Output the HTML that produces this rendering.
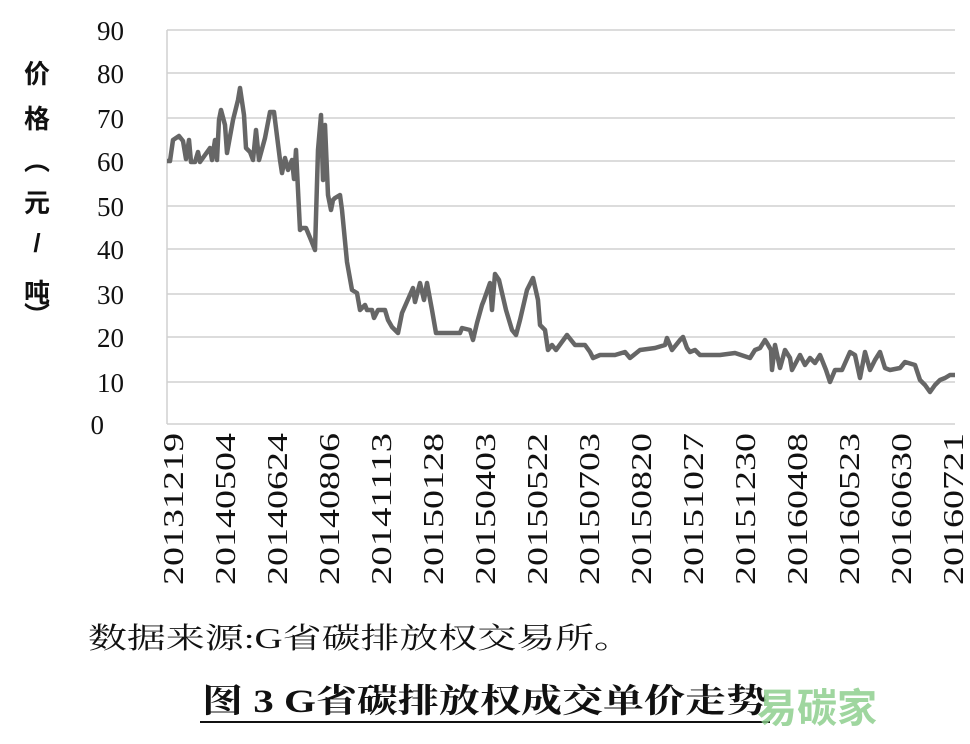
<!DOCTYPE html>
<html><head><meta charset="utf-8"><style>
body{margin:0;background:#fff;width:970px;height:744px;overflow:hidden;position:relative}
</style></head><body>
<svg width="970" height="744" style="position:absolute;left:0;top:0">
<g stroke="#d0d0d0" stroke-width="1.5">
<line x1="167" y1="30" x2="955" y2="30"/><line x1="167" y1="73" x2="955" y2="73"/><line x1="167" y1="118" x2="955" y2="118"/><line x1="167" y1="161" x2="955" y2="161"/><line x1="167" y1="206" x2="955" y2="206"/><line x1="167" y1="249" x2="955" y2="249"/><line x1="167" y1="294" x2="955" y2="294"/><line x1="167" y1="337" x2="955" y2="337"/><line x1="167" y1="382" x2="955" y2="382"/><line x1="167" y1="424" x2="955" y2="424"/>
<line x1="167" y1="30" x2="167" y2="424"/>
</g>
<polyline fill="none" stroke="#666" stroke-width="4.5" stroke-linejoin="round" points="167,161 170,161 173,140 179,136 183,141 186,159 189,140 191,162 195,162 198,152 200,162 205,155 210,148 212,160 215,140 217,160 219,120 221,110 225,125 227,153 233,120 238,100 240,88 244,115 246,148 250,152 253,160 256,130 259,160 265,138 270,112 274,112 280,160 282,173 285,158 288,170 292,160 294,179 296,150 300,230 302,228 306,228 311,240 315,250 318,150 321,115 323,180 325,125 328,195 331,210 333,200 335,198 340,195 342,210 347,262 352,290 357,293 360,310 365,305 367,310 372,310 374,318 378,310 385,310 388,320 392,327 398,333 402,313 413,288 415,302 420,283 424,300 427,283 432,310 436,333 460,333 462,328 470,330 473,340 477,323 482,305 484,300 490,283 492,310 495,274 499,280 506,310 512,330 516,335 520,320 527,290 533,278 538,300 540,325 545,330 548,350 552,345 556,350 567,335 575,345 585,345 590,352 593,358 600,355 615,355 625,352 630,358 640,350 655,348 665,345 667,338 672,350 680,340 683,337 687,348 690,352 695,350 700,355 720,355 735,353 750,358 755,350 760,348 765,340 767,343 771,350 772,370 775,345 780,368 785,350 790,358 792,370 800,355 805,365 810,358 815,363 820,355 826,370 830,382 835,370 842,370 850,352 855,355 860,378 865,352 870,370 875,360 880,352 885,368 890,370 900,368 905,362 915,365 920,380 925,385 930,392 935,385 940,380 945,378 950,375 955,375"/>
<g font-family="Liberation Serif,serif" font-size="27" fill="#111" text-anchor="end">
<text x="124" y="40">90</text><text x="124" y="83">80</text><text x="124" y="128">70</text><text x="124" y="171">60</text><text x="124" y="216">50</text><text x="124" y="259">40</text><text x="124" y="304">30</text><text x="124" y="347">20</text><text x="124" y="392">10</text><text x="104" y="434">0</text>
</g>
<g font-family="Liberation Serif,serif" font-size="29" fill="#111" text-anchor="end">
<text transform="translate(183,433) rotate(-90)" textLength="152" lengthAdjust="spacingAndGlyphs">20131219</text>
<text transform="translate(235,433) rotate(-90)" textLength="152" lengthAdjust="spacingAndGlyphs">20140504</text>
<text transform="translate(287,433) rotate(-90)" textLength="152" lengthAdjust="spacingAndGlyphs">20140624</text>
<text transform="translate(339,433) rotate(-90)" textLength="152" lengthAdjust="spacingAndGlyphs">20140806</text>
<text transform="translate(391,433) rotate(-90)" textLength="152" lengthAdjust="spacingAndGlyphs">20141113</text>
<text transform="translate(443,433) rotate(-90)" textLength="152" lengthAdjust="spacingAndGlyphs">20150128</text>
<text transform="translate(495,433) rotate(-90)" textLength="152" lengthAdjust="spacingAndGlyphs">20150403</text>
<text transform="translate(547,433) rotate(-90)" textLength="152" lengthAdjust="spacingAndGlyphs">20150522</text>
<text transform="translate(599,433) rotate(-90)" textLength="152" lengthAdjust="spacingAndGlyphs">20150703</text>
<text transform="translate(651,433) rotate(-90)" textLength="152" lengthAdjust="spacingAndGlyphs">20150820</text>
<text transform="translate(703,433) rotate(-90)" textLength="152" lengthAdjust="spacingAndGlyphs">20151027</text>
<text transform="translate(755,433) rotate(-90)" textLength="152" lengthAdjust="spacingAndGlyphs">20151230</text>
<text transform="translate(807,433) rotate(-90)" textLength="152" lengthAdjust="spacingAndGlyphs">20160408</text>
<text transform="translate(859,433) rotate(-90)" textLength="152" lengthAdjust="spacingAndGlyphs">20160523</text>
<text transform="translate(911,433) rotate(-90)" textLength="152" lengthAdjust="spacingAndGlyphs">20160630</text>
<text transform="translate(963,433) rotate(-90)" textLength="152" lengthAdjust="spacingAndGlyphs">20160721</text>
</g>
<g font-family="Liberation Sans,Noto Sans CJK SC,sans-serif" font-size="26" font-weight="bold" fill="#111" text-anchor="middle">
<text x="37" y="83">价</text><text x="37" y="128">格</text><text x="37" y="170">︵</text><text x="37" y="212">元</text><text x="37" y="252">/</text><text x="37" y="302">吨</text><text x="37" y="325">︶</text>
</g>
<text x="88" y="648" font-family="Liberation Serif,Noto Serif CJK SC,serif" font-size="29" fill="#111" textLength="545" lengthAdjust="spacingAndGlyphs">数据来源:G省碳排放权交易所。</text>
<text x="202" y="712" font-family="Liberation Serif,Noto Serif CJK SC,serif" font-size="33" font-weight="bold" fill="#111" textLength="565" lengthAdjust="spacingAndGlyphs">图 3  G省碳排放权成交单价走势</text>
<line x1="200" y1="722" x2="770" y2="722" stroke="#111" stroke-width="2"/>
<text x="757" y="722" font-family="Noto Sans CJK SC,sans-serif" font-size="40" font-weight="bold" fill="#8c8" opacity="0.8">易碳家</text>
</svg>
</body></html>
